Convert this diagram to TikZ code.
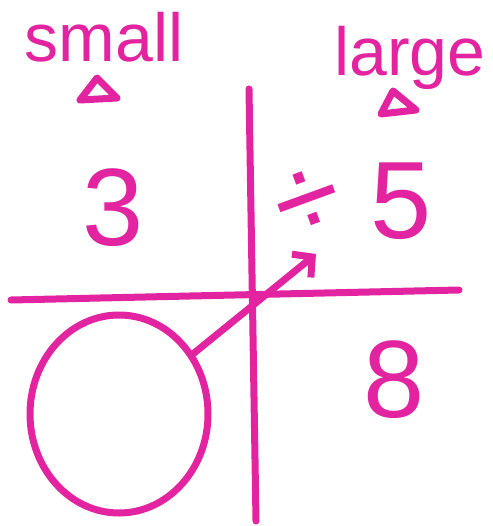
\documentclass[tikz,border=0pt]{standalone}
\usepackage{fontspec}
\setmainfont{Liberation Sans}
\usetikzlibrary{shapes.geometric,arrows.meta}
\definecolor{ink}{RGB}{226,36,160}
\begin{document}
\begin{tikzpicture}[x=1pt,y=-1pt,
                    pen/.style={draw=ink,line width=7pt,line cap=round,line join=round},
                    word/.style={text=ink,inner sep=0pt,anchor=base,font=\fontsize{68}{68}\selectfont},
                    digit/.style={text=ink,inner sep=0pt,font=\fontsize{110}{110}\selectfont}]
 \useasboundingbox (0,0) rectangle (492,526);
 % axes
 \coordinate (vtop) at (249,89); \coordinate (vbot) at (256,521);
 \coordinate (hleft) at (11,300); \coordinate (hright) at (459,290);
 \draw[pen] (vtop)--(vbot);
 \draw[pen] (hleft)--(hright);
 % labels with their little markers
 \node[word] (small) at (104,62) {small};
 \node[word] (large) at (410,76) {large};
 \draw[pen] (80,100)--(97,78)--(117,98)--cycle;
 \draw[pen] (381,114)--(393,91)--(416,110)--cycle;
 % quadrant entries
 \node[digit] (three) at (113,208) {3};
 \node[digit] (five) at (401,201) {5};
 \node[digit] (eight) at (394,380) {8};
 \node[text=ink,inner sep=0pt,rotate=20,font=\fontsize{120}{120}\selectfont] (div) at (309,205) {÷};
 % the loop and its arrow
 \node[ellipse,pen,minimum width=178,minimum height=198,inner sep=0pt] (blob) at (119,414) {};
 \coordinate (tip) at (316,254);
 \draw[pen,-{Straight Barb[length=14pt,width=30pt]}] (blob)--(tip);
\end{tikzpicture}
\end{document}
